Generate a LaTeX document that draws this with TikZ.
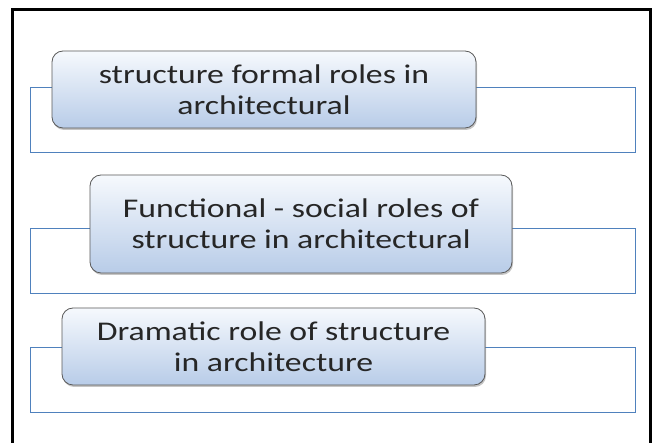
\documentclass[tikz,border=0pt]{standalone}
\usepackage{fontspec}
\setmainfont{Carlito}[FakeStretch=1.25]
\usepackage{tikz}
\usetikzlibrary{shadows, positioning}

\definecolor{panelblue}{RGB}{79,129,189}
\definecolor{roletop}{RGB}{246,249,253}
\definecolor{rolebottom}{RGB}{184,204,232}

\begin{document}
\begin{tikzpicture}[
    x=1pt, y=-1pt,
    panel/.style={rectangle, draw=panelblue, line width=1.2pt, fill=white, minimum width=605pt, minimum height=65pt, inner sep=0pt},
    role/.style={rectangle, rounded corners=11pt, draw=gray!70!black, line width=0.8pt, top color=roletop, bottom color=rolebottom, drop shadow={shadow xshift=1pt, shadow yshift=-2pt, opacity=0.45}, text=black!85, font=\fontsize{27}{31}\selectfont, align=center, minimum height=77pt, inner sep=0pt}
]
\useasboundingbox (0,0) rectangle (657,443);
\clip (0,0) rectangle (657,443);
\fill[white] (0,0) rectangle (657,443);

% Frame
\node[draw=black, line width=3pt, minimum width=638pt, minimum height=460pt, inner sep=0pt, anchor=north west] (frame) at (11,8) {};

% Panels
\node[panel, anchor=north west] (panel1) at (30,87) {};
\node[panel, anchor=north west] (panel2) at (30,228) {};
\node[panel, anchor=north west] (panel3) at (30,347) {};

% Roles
\node[role, minimum width=424pt] (formal) at (264,89.5) {structure formal roles in\\architectural};
\node[role, minimum width=422pt, minimum height=98pt] (social) at (301,224) {Functional - social roles of\\structure in architectural};
\node[role, minimum width=423pt] (dramatic) at (273.5,346.5) {Dramatic role of structure\\in architecture};

\end{tikzpicture}
\end{document}
